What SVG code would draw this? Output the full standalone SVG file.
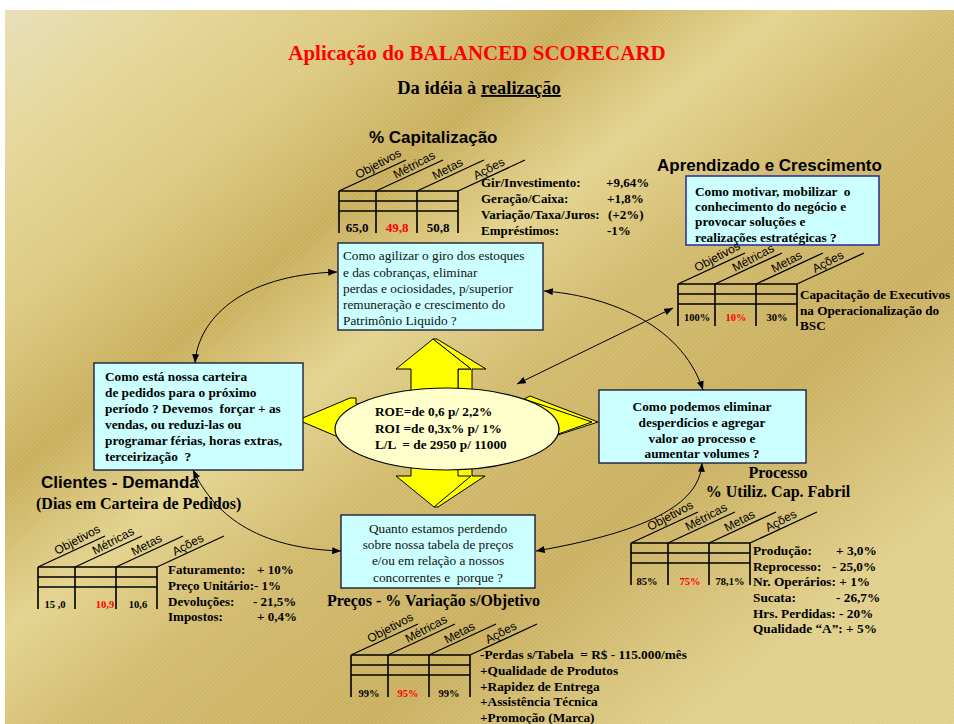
<svg xmlns="http://www.w3.org/2000/svg" width="954" height="724" viewBox="0 0 954 724">
<defs>
  <linearGradient id="bg" gradientUnits="userSpaceOnUse" x1="0" y1="0" x2="620" y2="775">
    <stop offset="0" stop-color="#E7DFBA"/>
    <stop offset="0.12" stop-color="#E5D698"/>
    <stop offset="0.25" stop-color="#DCC97F"/>
    <stop offset="0.38" stop-color="#C8AE5A"/>
    <stop offset="0.5" stop-color="#E3D38D"/>
    <stop offset="0.62" stop-color="#D2BA6C"/>
    <stop offset="0.8" stop-color="#C9AF5E"/>
    <stop offset="1" stop-color="#E0CF8A"/>
  </linearGradient>
  <pattern id="stripes" width="3" height="3" patternUnits="userSpaceOnUse" patternTransform="rotate(45)">
    <rect width="1" height="3" fill="#fff" fill-opacity="0.12"/>
  </pattern>
  <marker id="ah" viewBox="0 0 10 8" refX="10" refY="4" markerWidth="9" markerHeight="7" markerUnits="userSpaceOnUse" orient="auto-start-reverse">
    <path d="M0,0 L10,4 L0,8 z" fill="#000"/>
  </marker>
  <g id="tbl">
    <path class="tl" d="M0,0H119M0,10H119M0,20H119M0,0V42M37,0V42M78,0V42M119,0V42"/>
    <path class="dg" d="M0,0l67,-31M37,0l67,-31M78,0l67,-31M119,0l67,-31"/>
    <text class="col" transform="translate(19,-12) rotate(-28)">Objetivos</text>
    <text class="col" transform="translate(57,-12) rotate(-28)">Métricas</text>
    <text class="col" transform="translate(96,-11) rotate(-28)">Metas</text>
    <text class="col" transform="translate(137,-11) rotate(-28)">Ações</text>
  </g>
</defs>
<style>
  .tl{fill:none;stroke:#000;stroke-width:1.6}
  .dg{fill:none;stroke:#000;stroke-width:1.3}
  .col{font-family:"Liberation Sans",Arial,sans-serif;font-size:12px;fill:#000}
  .box{fill:#CCFFFF;stroke:#101030;stroke-width:1.3}
  .boxb{fill:#CCFFFF;stroke:#2828A0;stroke-width:1.5}
  .sb{font-family:"Liberation Serif","Times New Roman",serif;font-weight:bold;font-size:13.3px;fill:#000}
  .sr{font-family:"Liberation Serif","Times New Roman",serif;font-size:13.3px;fill:#111}
  .hd{font-family:"Liberation Sans",Arial,sans-serif;font-weight:bold;font-size:17px;fill:#000}
  .hs{font-family:"Liberation Serif","Times New Roman",serif;font-weight:bold;font-size:16px;fill:#000}
  .v{font-family:"Liberation Serif","Times New Roman",serif;font-weight:bold;font-size:10.5px;fill:#000;text-anchor:middle}
  .vl{font-size:13px}
  .red{fill:#FF0000}
  .mid{text-anchor:middle}
  .conn{fill:none;stroke:#000;stroke-width:1;marker-start:url(#ah);marker-end:url(#ah)}
  .ya{fill:#FFFF00;stroke:#000;stroke-width:1;stroke-linejoin:round}
</style>

<rect x="0" y="0" width="954" height="724" fill="#fff"/>
<rect x="5" y="10" width="949" height="714" fill="url(#bg)"/>
<rect x="5" y="10" width="949" height="714" fill="url(#stripes)"/>

<g id="title">
  <text x="477" y="60" text-anchor="middle" style="font-family:'Liberation Serif',serif;font-weight:bold;font-size:21px;fill:#FF0000">Aplicação do BALANCED SCORECARD</text>
  <text x="479" y="94" text-anchor="middle" style="font-family:'Liberation Serif',serif;font-weight:bold;font-size:18.5px;fill:#000">Da idéia à <tspan text-decoration="underline">realização</tspan></text>
</g>

<g id="connectors">
  <path class="conn" d="M195,363 C198,320 240,275 337,272"/>
  <path class="conn" d="M544,291 C600,295 680,320 703,390"/>
  <path class="conn" d="M702,463 C700,495 670,528 536,551"/>
  <path class="conn" d="M193,470 C210,505 245,548 341,551"/>
  <path class="conn" d="M517,384 L673,308"/>
</g>

<g id="center-arrows">
  <polygon class="ya" points="433,339 437,339 486,369 472,369 472,400 458,400 458,369 471,369"/>
  <polygon class="ya" points="433,339 396,369 411,369 411,400 458,400 458,369 471,369"/>
  <polygon class="ya" points="411,460 472,460 472,476 485,476 438,507 434,507 396,476 411,476"/>
  <polyline class="ya" points="434,507 471,476 458,476 458,460" fill="none"/>
  <polygon class="ya" points="298,420 350,398 356,398 356,404 420,404 420,436 350,436 350,442"/>
  <polygon class="ya" points="598,422 530,396 524,399 524,404 450,404 450,436 530,436 530,444"/>
  <polyline class="ya" points="524,399 592,422 530,444" fill="none"/>
</g>

<g id="node-center">
  <ellipse cx="447" cy="429" rx="112" ry="41" fill="#FFFFCC" stroke="#000" stroke-width="1.2"/>
  <text class="sb" x="375" y="416">ROE=de 0,6 p/ 2,2%</text>
  <text class="sb" x="375" y="433">ROI =de 0,3x% p/ 1%</text>
  <text class="sb" x="375" y="449" xml:space="preserve">L/L  = de 2950 p/ 11000</text>
</g>

<g id="node-capitalizacao">
  <text class="hd" x="369" y="143">% Capitalização</text>
  <use href="#tbl" x="339" y="191"/>
  <text class="v vl" x="357" y="232">65,0</text>
  <text class="v vl red" x="397" y="232">49,8</text>
  <text class="v vl" x="438" y="232">50,8</text>
  <text class="sb" style="font-size:13px" x="481" y="187">Gir/Investimento:</text>
  <text class="sb" style="font-size:13px" x="481" y="203">Geração/Caixa:</text>
  <text class="sb" style="font-size:13px" x="481" y="219">Variação/Taxa/Juros:</text>
  <text class="sb" style="font-size:13px" x="481" y="235">Empréstimos:</text>
  <text class="sb" style="font-size:13px" x="606" y="187">+9,64%</text>
  <text class="sb" style="font-size:13px" x="607" y="203">+1,8%</text>
  <text class="sb" style="font-size:13px" x="608" y="219">(+2%)</text>
  <text class="sb" style="font-size:13px" x="607" y="235">-1%</text>
</g>

<g id="box-financeiro">
  <rect class="box" x="338" y="243" width="205" height="87"/>
  <text class="sr" x="343" y="260">Como agilizar o giro dos estoques</text>
  <text class="sr" x="343" y="277">e das cobranças, eliminar</text>
  <text class="sr" x="343" y="293">perdas e ociosidades, p/superior</text>
  <text class="sr" x="343" y="309">remuneração e crescimento do</text>
  <text class="sr" x="343" y="325">Patrimônio Liquido ?</text>
</g>

<g id="node-aprendizado">
  <text class="hd" x="657" y="171">Aprendizado e Crescimento</text>
  <rect class="boxb" x="686" y="176" width="193" height="69"/>
  <text class="sb" x="695" y="196" xml:space="preserve">Como motivar, mobilizar  o</text>
  <text class="sb" x="695" y="211">conhecimento do negócio e</text>
  <text class="sb" x="695" y="226">provocar soluções e</text>
  <text class="sb" x="695" y="242">realizações estratégicas ?</text>
  <use href="#tbl" x="678" y="284"/>
  <text class="v" x="697" y="321">100%</text>
  <text class="v red" x="736" y="321">10%</text>
  <text class="v" x="777" y="321">30%</text>
  <text class="sb" style="font-size:13.2px" x="800" y="299">Capacitação de Executivos</text>
  <text class="sb" style="font-size:13.2px" x="800" y="315">na Operacionalização do</text>
  <text class="sb" style="font-size:13.2px" x="800" y="330">BSC</text>
</g>

<g id="box-clientes">
  <rect class="box" x="94" y="363" width="209" height="107"/>
  <text class="sb" x="105" y="381">Como está nossa carteira</text>
  <text class="sb" x="105" y="397">de pedidos para o próximo</text>
  <text class="sb" x="105" y="413" xml:space="preserve">período ? Devemos  forçar + as</text>
  <text class="sb" x="105" y="429">vendas, ou reduzi-las ou</text>
  <text class="sb" x="105" y="445">programar férias, horas extras,</text>
  <text class="sb" x="105" y="461" xml:space="preserve">terceirização  ?</text>
</g>

<g id="box-processo">
  <rect class="box" x="599" y="390" width="207" height="73"/>
  <text class="sb mid" x="702" y="411">Como podemos eliminar</text>
  <text class="sb mid" x="702" y="427">desperdícios e agregar</text>
  <text class="sb mid" x="702" y="443">valor ao processo e</text>
  <text class="sb mid" x="702" y="458">aumentar volumes ?</text>
</g>

<g id="box-precos">
  <rect class="box" x="341" y="515" width="194" height="73"/>
  <text class="sr mid" x="438" y="533">Quanto estamos perdendo</text>
  <text class="sr mid" x="438" y="549">sobre nossa tabela de preços</text>
  <text class="sr mid" x="438" y="565">e/ou em relação a nossos</text>
  <text class="sr mid" x="438" y="582" xml:space="preserve">concorrentes e  porque ?</text>
</g>

<g id="node-clientes">
  <text class="hd" x="41" y="488">Clientes - Demanda</text>
  <text class="hs" x="36" y="509">(Dias em Carteira de Pedidos)</text>
  <use href="#tbl" x="38" y="567"/>
  <text class="v" x="55" y="608">15 ,0</text>
  <text class="v red" x="105" y="608">10,9</text>
  <text class="v" x="138" y="608">10,6</text>
  <text class="sb" style="font-size:13px" x="168" y="574">Faturamento:</text>
  <text class="sb" style="font-size:13px" x="257" y="574">+ 10%</text>
  <text class="sb" style="font-size:13px" x="168" y="590">Preço Unitário:- 1%</text>
  <text class="sb" style="font-size:13px" x="168" y="606">Devoluções:</text>
  <text class="sb" style="font-size:13px" x="253" y="606">- 21,5%</text>
  <text class="sb" style="font-size:13px" x="168" y="621">Impostos:</text>
  <text class="sb" style="font-size:13px" x="257" y="621">+ 0,4%</text>
</g>

<g id="node-processo">
  <text class="hs mid" x="778" y="478">Processo</text>
  <text class="hs mid" x="778" y="497">% Utiliz. Cap. Fabril</text>
  <use href="#tbl" x="631" y="543"/>
  <text class="v" x="647" y="585">85%</text>
  <text class="v red" x="690" y="585">75%</text>
  <text class="v" x="730" y="585">78,1%</text>
  <text class="sb" x="753" y="555">Produção:</text>
  <text class="sb" x="836" y="555">+ 3,0%</text>
  <text class="sb" x="753" y="571">Reprocesso:</text>
  <text class="sb" x="832" y="571">- 25,0%</text>
  <text class="sb" x="753" y="586">Nr. Operários: + 1%</text>
  <text class="sb" x="753" y="602">Sucata:</text>
  <text class="sb" x="836" y="602">- 26,7%</text>
  <text class="sb" x="753" y="618">Hrs. Perdidas: - 20%</text>
  <text class="sb" x="753" y="633">Qualidade “A”: + 5%</text>
</g>

<g id="node-precos">
  <text class="hs" x="327" y="606">Preços - % Variação s/Objetivo</text>
  <use href="#tbl" x="351" y="655"/>
  <text class="v" x="369" y="697">99%</text>
  <text class="v red" x="408" y="697">95%</text>
  <text class="v" x="449" y="697">99%</text>
  <text class="sb" x="480" y="659" xml:space="preserve">-Perdas s/Tabela  = R$ - 115.000/mês</text>
  <text class="sb" x="480" y="675">+Qualidade de Produtos</text>
  <text class="sb" x="480" y="691">+Rapidez de Entrega</text>
  <text class="sb" x="480" y="706">+Assistência Técnica</text>
  <text class="sb" x="480" y="722">+Promoção (Marca)</text>
</g>
</svg>
